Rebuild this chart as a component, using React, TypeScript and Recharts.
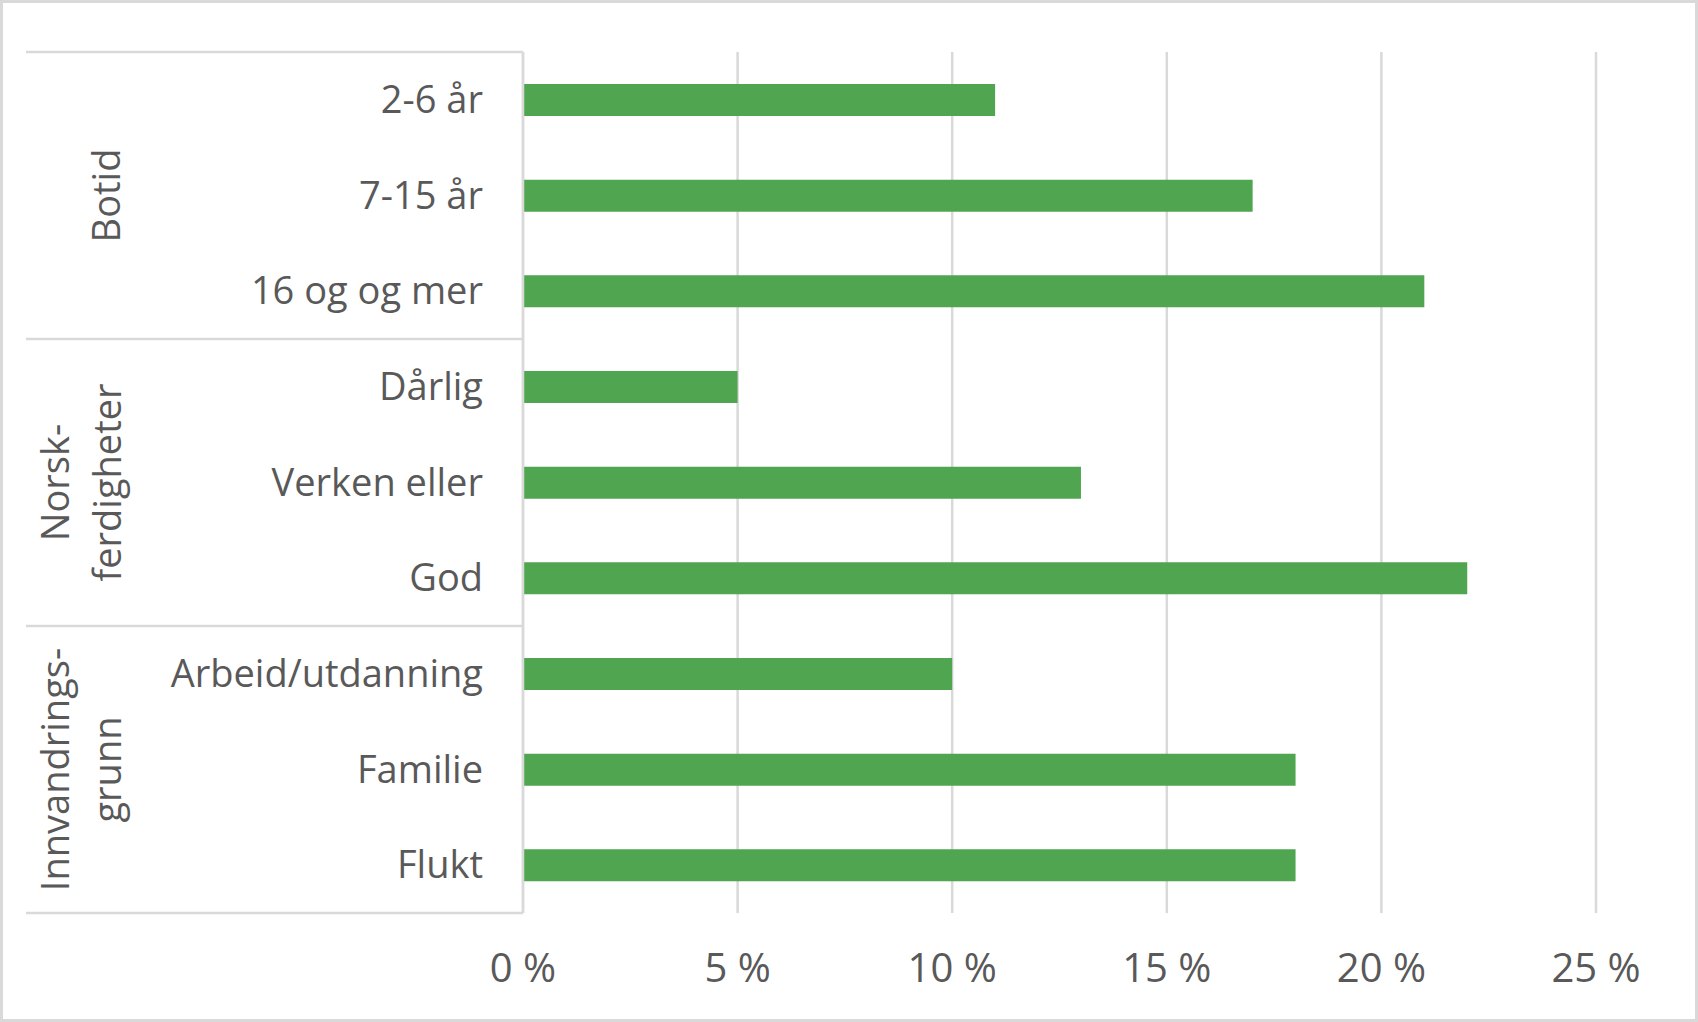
import { BarChart, Bar, XAxis, YAxis, CartesianGrid } from 'recharts'

const categories = [
  '2-6 år', '7-15 år', '16 og og mer',
  'Dårlig', 'Verken eller', 'God',
  'Arbeid/utdanning', 'Familie', 'Flukt',
]
const shares = [11, 17, 21, 5, 13, 22, 10, 18, 18]
const groupLabels = [['Botid'], ['Norsk-', 'ferdigheter'], ['Innvandrings-', 'grunn']]
const groupSizes = [3, 3, 3]
const xTicks = [0, 5, 10, 15, 20, 25]

const W = 1698
const H = 1022
const TOP = 52
const BOTTOM = 109
const LEFT = 523
const RIGHT = 102
const BAND = (H - TOP - BOTTOM) / categories.length

const GRID = '#d9d9d9'
const TEXT = '#595959'
const GREEN = '#50a550'
const FONT = '"Open Sans", "Liberation Sans", Arial, sans-serif'

const data = categories.map((name, i) => ({ name, value: shares[i] }))

// where each group starts, by category index
const groupStarts = groupSizes.map((_, g) => groupSizes.slice(0, g).reduce((a, b) => a + b, 0))

function CategoryTick(props: any) {
  const { x, y, payload } = props
  const i = categories.indexOf(payload.value)
  const axisX = x + 40
  const g = groupStarts.findIndex((s, k) => i >= s && i < s + groupSizes[k])
  const start = groupStarts[g]
  const isFirst = i === start
  const isMiddle = i === start + Math.floor(groupSizes[g] / 2)
  const isLastOfAll = i === categories.length - 1
  const lines = groupLabels[g]
  const groupCenter = y + (start + groupSizes[g] / 2 - (i + 0.5)) * BAND

  return (
    <g>
      <text x={x} y={y - 2} textAnchor="end" dominantBaseline="central" fill={TEXT} fontSize={38} fontFamily={FONT}>
        {payload.value}
      </text>
      {isFirst && (
        <line x1={26} x2={axisX} y1={y - BAND / 2} y2={y - BAND / 2} stroke={GRID} strokeWidth={2.5} />
      )}
      {isLastOfAll && (
        <line x1={26} x2={axisX} y1={y + BAND / 2} y2={y + BAND / 2} stroke={GRID} strokeWidth={2.5} />
      )}
      {isMiddle &&
        lines.map((t, k) => {
          const cx = lines.length === 1 ? 105 : 54 + k * 52
          return (
            <text
              key={t}
              x={cx}
              y={groupCenter}
              transform={`rotate(-90, ${cx}, ${groupCenter})`}
              textAnchor="middle"
              dominantBaseline="central"
              fill={TEXT}
              fontSize={38}
              fontFamily={FONT}
            >
              {t}
            </text>
          )
        })}
    </g>
  )
}

export default function App() {
  return (
    <div style={{ position: 'relative', width: W, height: H, background: '#fff' }}>
      <style>{'body { margin: 0; }'}</style>
      <BarChart
        width={W}
        height={H}
        data={data}
        layout="vertical"
        margin={{ top: TOP, right: RIGHT, bottom: 0, left: 0 }}
        barSize={32}
      >
        <CartesianGrid horizontal={false} stroke={GRID} strokeWidth={2.5} />
        <XAxis
          type="number"
          domain={[0, 25]}
          ticks={xTicks}
          height={BOTTOM}
          axisLine={false}
          tickLine={false}
          tickSize={0}
          tickMargin={41}
          tickFormatter={(v: number) => `${v} %`}
          tick={{ fill: TEXT, fontSize: 40, fontFamily: FONT }}
        />
        <YAxis
          type="category"
          dataKey="name"
          width={LEFT}
          interval={0}
          tickSize={0}
          tickMargin={40}
          tickLine={false}
          axisLine={{ stroke: GRID, strokeWidth: 2.5 }}
          tick={<CategoryTick />}
        />
        <Bar dataKey="value" fill={GREEN} isAnimationActive={false} />
      </BarChart>
      <div
        style={{
          position: 'absolute',
          inset: 0,
          border: `3px solid ${GRID}`,
          pointerEvents: 'none',
        }}
      />
    </div>
  )
}
